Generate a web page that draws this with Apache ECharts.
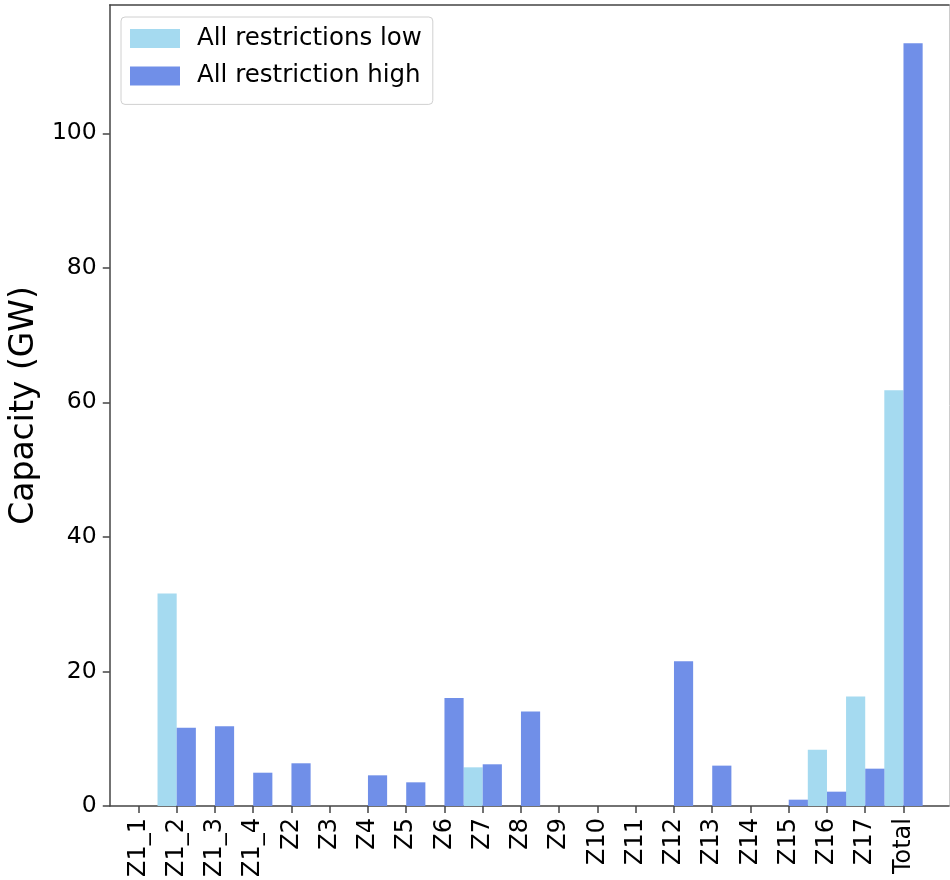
<!DOCTYPE html>
<html>
<head>
<meta charset="utf-8">
<script src="https://cdn.jsdelivr.net/npm/echarts@6/dist/echarts.min.js"></script>
<style>
html,body{margin:0;padding:0;background:#fff;}
#chart{width:950px;height:880px;}
</style>
</head>
<body>
<div id="chart"></div>
<script>
var categories = ['Z1_1','Z1_2','Z1_3','Z1_4','Z2','Z3','Z4','Z5','Z6','Z7','Z8','Z9','Z10','Z11','Z12','Z13','Z14','Z15','Z16','Z17','Total'];
var lowValues  = [0, 31.6, 0, 0, 0, 0, 0, 0, 0, 5.75, 0, 0, 0, 0, 0, 0, 0, 0, 8.38, 16.26, 61.8];
var highValues = [0, 11.65, 11.85, 4.95, 6.35, 0, 4.56, 3.52, 16.06, 6.2, 14.03, 0, 0, 0, 21.5, 6.0, 0, 0.94, 2.13, 5.55, 113.4];
var yTicks = [0, 20, 40, 60, 80, 100];
var seriesNames = ['All restrictions low', 'All restriction high'];

var FONT = 'DejaVu Sans';
var spine = '#444444';
var idx = categories.map(function (c, i) { return i; });

var chart = echarts.init(document.getElementById('chart'), null, {renderer: 'canvas'});
var xMin = -0.75, xMax = 21.19, yMax = 119.07;

chart.setOption({
  animation: false,
  backgroundColor: '#ffffff',
  grid: {left: 108, top: 5, right: 1, bottom: 74, containLabel: false},
  legend: {
    orient: 'vertical',
    left: 121, top: 17,
    padding: [9, 11, 16, 9],
    itemWidth: 50, itemHeight: 19, itemGap: 12.4,
    borderColor: '#d0d0d0', borderWidth: 1, borderRadius: 4,
    backgroundColor: '#ffffff',
    icon: 'rect',
    itemStyle: {borderWidth: 0},
    textStyle: {fontFamily: FONT, fontSize: 24.5, color: '#000', padding: [0, 0, 0, 12]},
    data: seriesNames
  },
  xAxis: [{
    type: 'value', min: xMin, max: xMax, position: 'bottom',
    axisLine: {show: true, onZero: false, lineStyle: {color: spine, width: 1.5}},
    axisTick: {show: true, length: 7, customValues: idx, lineStyle: {color: spine, width: 1.5}},
    axisLabel: {
      customValues: idx, rotate: 90, margin: 12,
      fontFamily: FONT, fontSize: 24, color: '#000',
      formatter: function (v) { return categories[Math.round(v)]; }
    },
    splitLine: {show: false}
  }, {
    type: 'value', min: xMin, max: xMax, position: 'top',
    axisLine: {show: true, onZero: false, lineStyle: {color: spine, width: 1.5}},
    axisTick: {show: false}, axisLabel: {show: false}, splitLine: {show: false}
  }],
  yAxis: [{
    type: 'value', min: 0, max: yMax, position: 'left',
    name: 'Capacity (GW)', nameLocation: 'middle', nameGap: 66,
    nameTextStyle: {fontFamily: FONT, fontSize: 33, color: '#000'},
    axisLine: {show: true, onZero: false, lineStyle: {color: spine, width: 1.5}},
    axisTick: {show: true, length: 7, customValues: yTicks, lineStyle: {color: spine, width: 1.5}},
    axisLabel: {customValues: yTicks, margin: 13, fontFamily: FONT, fontSize: 23.5, color: '#000'},
    splitLine: {show: false}
  }, {
    type: 'value', min: 0, max: yMax, position: 'right',
    axisLine: {show: true, onZero: false, lineStyle: {color: '#cccccc', width: 1}},
    axisTick: {show: false}, axisLabel: {show: false}, splitLine: {show: false}
  }],
  series: [{
    name: seriesNames[0], type: 'bar', xAxisIndex: 0, yAxisIndex: 0,
    barWidth: 19.17, barGap: '0%',
    itemStyle: {color: '#a5daf0', borderWidth: 0},
    data: lowValues.map(function (v, i) { return [i, v]; })
  }, {
    name: seriesNames[1], type: 'bar', xAxisIndex: 0, yAxisIndex: 0,
    barWidth: 19.17, barGap: '0%',
    itemStyle: {color: '#708fe8', borderWidth: 0},
    data: highValues.map(function (v, i) { return [i, v]; })
  }]
});
</script>
</body>
</html>
